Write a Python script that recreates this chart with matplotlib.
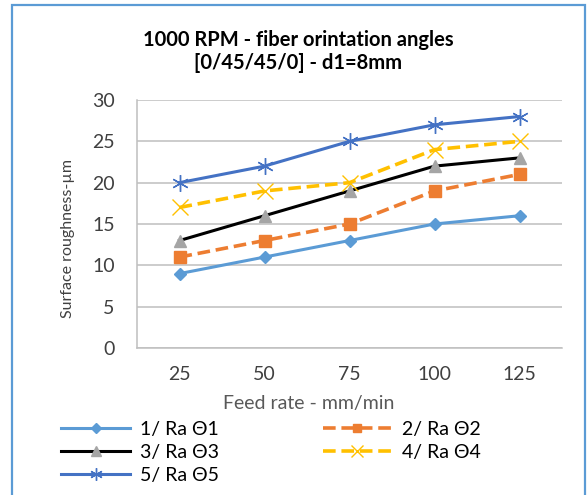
import matplotlib
matplotlib.use("Agg")
import matplotlib.pyplot as plt
from matplotlib.patches import Rectangle

plt.rcParams["font.family"] = ["Lato", "DejaVu Sans"]

feed = ["25", "50", "75", "100", "125"]
ra1 = [9, 11, 13, 15, 16]
ra2 = [11, 13, 15, 19, 21]
ra3 = [13, 16, 19, 22, 23]
ra4 = [17, 19, 20, 24, 25]
ra5 = [20, 22, 25, 27, 28]
labels = ["1/ Ra \u03981", "2/ Ra \u03982", "3/ Ra \u03983", "4/ Ra \u03984", "5/ Ra \u03985"]

fig = plt.figure(figsize=(5.87, 4.95), dpi=100)
ax = fig.add_axes([137 / 587, 1 - 348 / 495, 425 / 587, 248 / 495])

x = range(len(feed))
dash = (3.5, 1.6)
h1, = ax.plot(x, ra1, color="#5B9BD5", lw=2.2, marker="D", ms=6.5, label=labels[0])
h2, = ax.plot(x, ra2, color="#ED7D31", lw=2.6, ls=(0, dash), marker="s", ms=8, label=labels[1])
h3, = ax.plot(x, ra3, color="black", lw=2.2, marker="^", ms=9,
              mfc="#A5A5A5", mec="#A5A5A5", label=labels[2])
h4, = ax.plot(x, ra4, color="#FFC000", lw=2.6, ls=(0, dash), marker="x", ms=11,
              mew=1.0, label=labels[3])
h5, = ax.plot(x, ra5, color="#4472C4", lw=2.2, marker=(6, 2, 0), ms=12,
              mew=1.0, label=labels[4])

ax.set_xlim(-0.5, 4.5)
ax.set_ylim(0, 30)
ax.set_yticks(range(0, 31, 5))
ax.set_xticks(list(x))
ax.set_xticklabels(feed)
ax.grid(axis="y", color="#BFBFBF", lw=1.1)
ax.set_axisbelow(True)
for s in ["top", "right"]:
    ax.spines[s].set_visible(False)
for s in ["left", "bottom"]:
    ax.spines[s].set_color("#BFBFBF")
    ax.spines[s].set_linewidth(1.1)
ax.tick_params(length=0, labelsize=14, colors="#404040")
ax.tick_params(axis="y", pad=16)
ax.tick_params(axis="x", pad=13)

# axis titles
fig.text(309 / 587, 1 - 403 / 495, "Feed rate - mm/min", ha="center", va="center",
         fontsize=14, color="#595959")
fig.text(68 / 587, 1 - 239 / 495, "Surface roughness-\u00b5m", rotation=90,
         ha="center", va="center", fontsize=11.5, color="#404040")

fig.text(298 / 587, 1 - 40 / 495, "1000 RPM - fiber orintation angles",
         ha="center", va="center", fontsize=14.5, fontweight="bold")
fig.text(298 / 587, 1 - 63 / 495, "[0/45/45/0] - d1=8mm",
         ha="center", va="center", fontsize=14.5, fontweight="bold")

# legend fills columns first, so order handles to read row by row
fig.legend(handles=[h1, h3, h5, h2, h4], ncol=2, loc="upper left",
           bbox_to_anchor=(61 / 587, 1 - 421 / 495), frameon=False,
           fontsize=14, handlelength=3.55, handletextpad=0.5, markerscale=0.75,
           columnspacing=5.35, labelspacing=0.3, borderpad=0, borderaxespad=0)

fig.patches.append(Rectangle((11.5 / 587, -0.02), 573.5 / 587, 1.02 - 5.5 / 495,
                             transform=fig.transFigure, fill=False,
                             ec="#5B9BD5", lw=1.6))

fig.savefig("out.png", dpi=100)
